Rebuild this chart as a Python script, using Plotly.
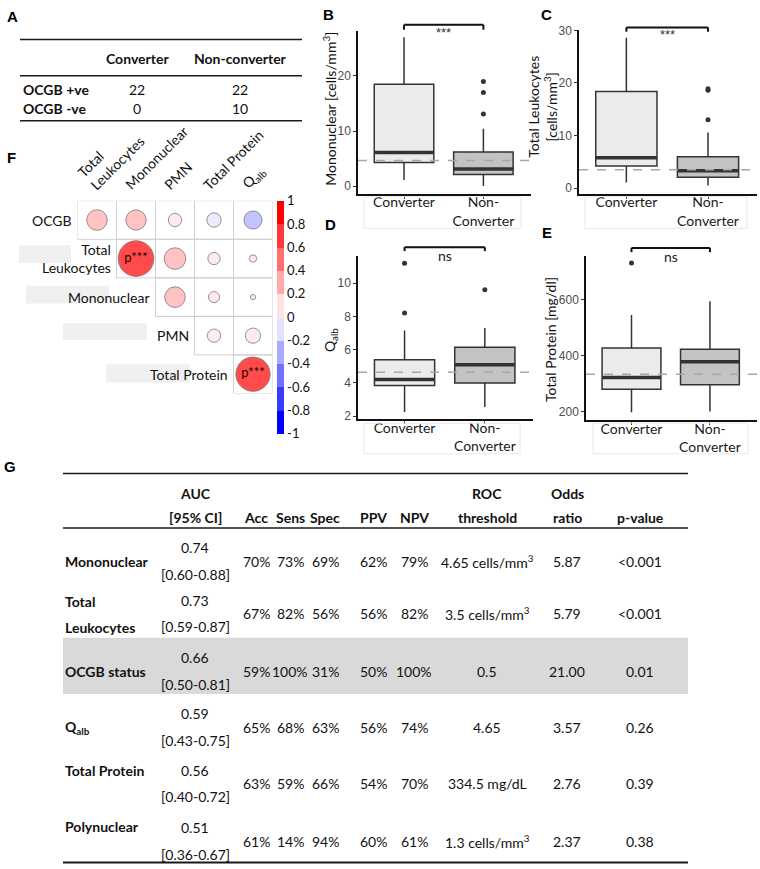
import math
import plotly.graph_objects as go

W, H = 760, 869

# ---------------- data ----------------
# panel A
a_cols = ["Converter", "Non-converter"]
a_rows = ["OCGB +ve", "OCGB -ve"]
a_counts = [[22, 22], [0, 10]]

# panels B-E: [lower whisker, q1, median, q3, upper whisker] for converter / non-converter
groups = ["Converter", "Non-<br>Converter"]
mono_stats = [[1.1, 4.3, 6.1, 18.5, 27.0], [0.0, 2.1, 3.1, 6.2, 10.4]]
mono_out = [[], [13.1, 17.0, 19.0]]
leuk_stats = [[1.1, 4.2, 5.8, 18.4, 28.6], [0.5, 2.1, 3.3, 6.0, 10.6]]
leuk_out = [[], [13.0, 18.6, 18.9]]
qalb_stats = [[2.25, 3.85, 4.2, 5.4, 7.15], [2.55, 4.0, 5.1, 6.15, 7.3]]
qalb_out = [[8.2, 11.2], [9.6]]
prot_stats = [[199, 281, 323, 428, 546], [202, 297, 379, 424, 595]]
prot_out = [[731], []]
cutoffs = [4.65, 3.5, 4.65, 334.5]
signif = ["***", "***", "ns", "ns"]

# panel F
corr_rows = ["OCGB", "Total<br>Leukocytes", "Mononuclear", "PMN", "Total Protein"]
corr_cols = ["Total<br>Leukocytes", "Mononuclear", "PMN", "Total Protein", "Q<sub>alb</sub>"]
corr_r = [
    [0.31, 0.30, 0.13, -0.15, -0.24],
    [None, 0.93, 0.34, 0.11, 0.04],
    [None, None, 0.31, 0.09, 0.02],
    [None, None, None, 0.13, 0.17],
    [None, None, None, None, 0.86],
]
corr_sig = [(1, 1), (4, 4)]
cbar_ticks = [1, 0.8, 0.6, 0.4, 0.2, 0, -0.2, -0.4, -0.6, -0.8, -1]

# panel G
g_head_top = ["AUC", "", "", "", "", "", "ROC", "Odds", ""]
g_head_bot = ["[95% CI]", "Acc", "Sens", "Spec", "PPV", "NPV", "threshold", "ratio", "p-value"]
g_rows = [["Mononuclear"], ["Total", "Leukocytes"], ["OCGB status"],
          ["Q<sub>alb</sub>"], ["Total Protein"], ["Polynuclear"]]
auc = ["0.74", "0.73", "0.66", "0.59", "0.56", "0.51"]
auc_ci = ["[0.60-0.88]", "[0.59-0.87]", "[0.50-0.81]", "[0.43-0.75]", "[0.40-0.72]", "[0.36-0.67]"]
acc = ["70%", "67%", "59%", "65%", "63%", "61%"]
sens = ["73%", "82%", "100%", "68%", "59%", "14%"]
spec = ["69%", "56%", "31%", "63%", "66%", "94%"]
ppv = ["62%", "56%", "50%", "56%", "54%", "60%"]
npv = ["79%", "82%", "100%", "74%", "70%", "61%"]
roc_thr = ["4.65 cells/mm<sup>3</sup>", "3.5 cells/mm<sup>3</sup>", "0.5", "4.65",
           "334.5 mg/dL", "1.3 cells/mm<sup>3</sup>"]
odds = ["5.87", "5.79", "21.00", "3.57", "2.76", "2.37"]
pval = ["&lt;0.001", "&lt;0.001", "0.01", "0.26", "0.39", "0.38"]
highlight_row = 2


# ---------------- helpers (page pixels -> paper) ----------------
def fx(x):
    return x / W


def fy(y):
    return 1 - y / H


annotations = []
shapes = []
TXT = "Lato"
NUM = "Liberation Sans"


def note(x, y, text, size=14, bold=False, family=TXT, color="#111111",
         xanchor="center", yanchor="middle", **kw):
    if bold:
        text = "<b>" + text + "</b>"
    annotations.append(dict(x=fx(x), y=fy(y), xref="paper", yref="paper", text=text,
                            showarrow=False, xanchor=xanchor, yanchor=yanchor,
                            font=dict(family=family, size=size, color=color), **kw))


def hline(y, x0, x1, width=1.5, color="#1a1a1a"):
    shapes.append(dict(type="line", xref="paper", yref="paper", x0=fx(x0), x1=fx(x1),
                       y0=fy(y), y1=fy(y), line=dict(color=color, width=width)))


def letter(s, x, y):
    note(x, y, s, size=15, bold=True, family=NUM, color="#000000")


fig = go.Figure()

# ---------------- panel A ----------------
letter("A", 12, 11)
hline(34, 20, 302)
hline(70.5, 20, 302)
hline(116, 20, 302)
a_x = [137, 240]
for c, name in enumerate(a_cols):
    note(a_x[c], 53, name, bold=True)
for r, name in enumerate(a_rows):
    yy = [84, 104][r]
    note(21, yy, name, bold=True, xanchor="left")
    for c in range(2):
        note(a_x[c], yy, str(a_counts[r][c]))

# ---------------- panels B-E ----------------
box_panels = [
    dict(n=1, stats=mono_stats, out=mono_out, title="Mononuclear [cells/mm<sup>3</sup>]",
         xpx=(358, 531), ypx=(25, 190), yrange=[-1.4, 28.2], yticks=[0, 10, 20],
         tpos=(330, 104), lab=("B", 328, 9), br=(19, 24), sy=27, lbox=(364, 521, 193, 225)),
    dict(n=2, stats=leuk_stats, out=leuk_out, title="Total Leukocytes<br>[cells/mm<sup>3</sup>]",
         xpx=(579, 757), ypx=(24.3, 190), yrange=[-1.07, 30.07], yticks=[0, 10, 20, 30],
         tpos=(543, 102), lab=("C", 546, 9), br=(21.7, 26), sy=29, lbox=(585, 747, 193, 225)),
    dict(n=3, stats=qalb_stats, out=qalb_out, title="Q<sub>alb</sub>",
         xpx=(358, 533), ypx=(253, 418), yrange=[1.82, 11.63], yticks=[2, 4, 6, 8, 10],
         tpos=(330, 338), lab=("D", 330, 221), br=(244, 248), sy=252, lbox=(364, 520, 422, 453)),
    dict(n=4, stats=prot_stats, out=prot_out, title="Total Protein [mg/dl]",
         xpx=(586, 757), ypx=(253.3, 419), yrange=[170.7, 755], yticks=[200, 400, 600],
         tpos=(550, 338), lab=("E", 547, 229), br=(244.7, 249), sy=253, lbox=(593, 748, 422, 453)),
]
box_fill = ["#ebebeb", "#c3c3c3"]
BOXW = 0.75
axes = {}

for k, p in enumerate(box_panels):
    n = p["n"]
    xa = "x" if n == 1 else "x%d" % n
    ya = "y" if n == 1 else "y%d" % n
    x0, x1 = p["xpx"]
    y0, y1 = p["ypx"]

    for g in range(2):
        lo, q1, med, q3, hi = p["stats"][g]
        fig.add_trace(go.Box(x=[g], lowerfence=[lo], q1=[q1], median=[med], q3=[q3],
                             upperfence=[hi], width=BOXW, whiskerwidth=0,
                             fillcolor=box_fill[g], line=dict(color="#333333", width=1.5),
                             boxpoints=False, hoverinfo="skip", xaxis=xa, yaxis=ya))
        shapes.append(dict(type="line", xref=xa, yref=ya, x0=g - BOXW / 2, x1=g + BOXW / 2,
                           y0=med, y1=med, line=dict(color="#333333", width=3.5)))
        if p["out"][g]:
            fig.add_trace(go.Scatter(x=[g] * len(p["out"][g]), y=p["out"][g], mode="markers",
                                     marker=dict(size=5, color="#333333"), hoverinfo="skip",
                                     xaxis=xa, yaxis=ya))

    # cutoff line
    shapes.append(dict(type="line", xref=xa + " domain", yref=ya, x0=0, x1=1,
                       y0=cutoffs[k], y1=cutoffs[k], layer="above",
                       line=dict(color="#a8a8a8", width=1.5, dash="dash")))

    # significance bracket
    def dfrac(ypx, y0=y0, y1=y1):
        return (y1 - ypx) / (y1 - y0)

    btop, bend = dfrac(p["br"][0]), dfrac(p["br"][1])
    bl = dict(color="#111111", width=2)
    shapes.append(dict(type="line", xref=xa, yref=ya + " domain", x0=0, x1=1, y0=btop, y1=btop, line=bl))
    shapes.append(dict(type="line", xref=xa, yref=ya + " domain", x0=0, x1=0, y0=btop, y1=bend, line=bl))
    shapes.append(dict(type="line", xref=xa, yref=ya + " domain", x0=1, x1=1, y0=btop, y1=bend, line=bl))
    sig_font = dict(family=NUM, size=13, color="#333333") if signif[k] == "***" \
        else dict(family=TXT, size=14, color="#222222")
    annotations.append(dict(x=0.5, y=dfrac(p["sy"]), xref=xa, yref=ya + " domain",
                            text=signif[k], showarrow=False, font=sig_font, yanchor="middle"))

    # faint frame around category labels
    lx0, lx1, ly0, ly1 = p["lbox"]
    shapes.append(dict(type="rect", xref="paper", yref="paper", x0=fx(lx0), x1=fx(lx1),
                       y0=fy(ly1), y1=fy(ly0), line=dict(color="#e8e8e8", width=1)))

    note(p["tpos"][0], p["tpos"][1], p["title"], size=14, textangle=-90)
    letter(*p["lab"])

    axes["xaxis" if n == 1 else "xaxis%d" % n] = dict(
        domain=[fx(x0), fx(x1)], anchor=ya, range=[-0.58, 1.6], tickvals=[0, 1],
        ticktext=groups, showline=True, linecolor="#111111", linewidth=1.5,
        ticks="outside", ticklen=3, tickcolor="#333333", showgrid=False, zeroline=False,
        ticklabelstandoff=-8,
        tickfont=dict(family=TXT, size=14, color="#1a1a1a"))
    axes["yaxis" if n == 1 else "yaxis%d" % n] = dict(
        domain=[fy(y1), fy(y0)], anchor=xa, range=p["yrange"], tickvals=p["yticks"],
        showline=True, linecolor="#111111", linewidth=1.5, ticks="outside", ticklen=3,
        tickcolor="#333333", showgrid=False, zeroline=False,
        tickfont=dict(family=NUM, size=12, color="#4d4d4d"))

# ---------------- panel F ----------------
letter("F", 11, 153)
band_colors = ["#0000FF", "#3939FF", "#7171FF", "#AAAAFF", "#E3E3FF",
               "#FFE3E3", "#FFAAAA", "#FF7171", "#FF3939", "#FF0000"]
cscale = []
for i, c in enumerate(band_colors):
    cscale += [[i / 10, c], [(i + 1) / 10, c]]

cx, cy, cr = [], [], []
for i, row in enumerate(corr_r):
    for j, r in enumerate(row):
        if r is None:
            continue
        cx.append(j)
        cy.append(i)
        cr.append(r)
        shapes.append(dict(type="rect", xref="x5", yref="y5", x0=j - 0.5, x1=j + 0.5,
                           y0=i - 0.5, y1=i + 0.5, layer="below",
                           line=dict(color="#cfcfcf", width=1)))

fig.add_trace(go.Scatter(
    x=cx, y=cy, mode="markers", xaxis="x5", yaxis="y5", hoverinfo="skip", cliponaxis=False,
    marker=dict(size=[37 * math.sqrt(abs(r)) for r in cr], color=cr, colorscale=cscale,
                cmin=-1, cmax=1, line=dict(color="#444444", width=0.8), showscale=True,
                colorbar=dict(x=fx(277), xanchor="left", y=fy(197), yanchor="top",
                              lenmode="pixels", len=233, thickness=7, xpad=0, ypad=0,
                              outlinewidth=0, tickvals=cbar_ticks,
                              ticktext=[("%g" % t) for t in cbar_ticks], ticks="",
                              tickfont=dict(family=TXT, size=13, color="#111111")))))
fig.add_trace(go.Scatter(
    x=[s[1] for s in corr_sig], y=[s[0] for s in corr_sig], mode="text", text=["p***"] * len(corr_sig),
    textfont=dict(family=TXT, size=13, color="#2a0000"), xaxis="x5", yaxis="y5",
    hoverinfo="skip", cliponaxis=False))

for i, name in enumerate(corr_rows):
    annotations.append(dict(x=i - 0.5, y=i, xref="x5", yref="y5", text=name, showarrow=False,
                            xanchor="right", xshift=-4, align="right",
                            font=dict(family=TXT, size=14, color="#111111")))
for j, name in enumerate(corr_cols):
    annotations.append(dict(x=j, y=-0.5, xref="x5", yref="y5", text=name, showarrow=False,
                            xanchor="left", yanchor="bottom", textangle=-45, align="left",
                            xshift=-26 if "<br>" in name else -17, yshift=5,
                            font=dict(family=TXT, size=14, color="#111111")))

# grey artefact boxes next to the row labels
for bx0, by0, bx1, by1 in [(19, 242, 71, 260), (26, 283, 109, 301),
                           (63, 321, 147, 338), (106, 362, 190, 381)]:
    shapes.append(dict(type="rect", xref="paper", yref="paper", x0=fx(bx0), x1=fx(bx1),
                       y0=fy(by1), y1=fy(by0), fillcolor="#f0f0f0", line=dict(width=0),
                       layer="below"))

axes["xaxis5"] = dict(domain=[fx(77.5), fx(272.5)], range=[-0.5, 4.5], visible=False, anchor="y5")
axes["yaxis5"] = dict(domain=[fy(392), fy(197)], range=[4.5, -0.5], visible=False, anchor="x5")

# ---------------- panel G ----------------
letter("G", 10, 466)
GL, GR = 63, 688
g_col_x = [195, 256, 290, 325, 373, 414, 487, 567, 640]
row_y = [562, 615, 673, 730, 787, 845]
label_dy = [[0], [-13, 14], [0], [0], [-14], [-15]]

hy = row_y[highlight_row]
shapes.append(dict(type="rect", xref="paper", yref="paper", x0=fx(GL), x1=fx(GR),
                   y0=fy(hy + 23), y1=fy(hy - 34), fillcolor="#d9d9d9", line=dict(width=0),
                   layer="below"))
hline(473, GL, GR)
hline(528, GL, GR)
hline(866.5, GL, GR, width=2)

for c, x in enumerate(g_col_x):
    if g_head_top[c]:
        note(x, 493, g_head_top[c], bold=True)
    note(x, 517, g_head_bot[c], bold=True)

other_cols = [acc, sens, spec, ppv, npv, roc_thr, odds, pval]
for r, yc in enumerate(row_y):
    for line, dy in zip(g_rows[r], label_dy[r]):
        note(GL, yc + dy, line, bold=True, xanchor="left")
    note(g_col_x[0], yc - 14, auc[r])
    note(g_col_x[0], yc + 13, auc_ci[r])
    for c, col in enumerate(other_cols):
        note(g_col_x[c + 1], yc, col[r])

fig.update_layout(
    width=W, height=H, margin=dict(l=0, r=0, t=0, b=0),
    paper_bgcolor="white", plot_bgcolor="white", showlegend=False,
    annotations=annotations, shapes=shapes, **axes)

# the page body keeps an 8px default margin; drop it so the figure fills the window
fig.write_html("out.html", config={"displayModeBar": False},
               post_script="document.body.style.margin='0px';")
